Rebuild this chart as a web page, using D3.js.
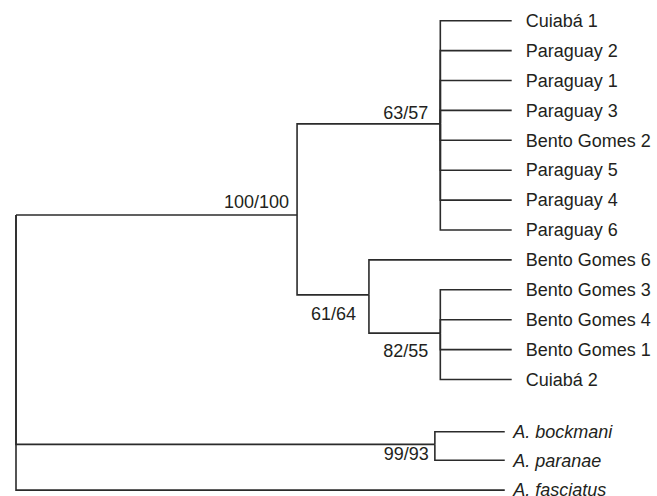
<!DOCTYPE html>
<html>
<head>
<meta charset="utf-8">
<script src="https://cdn.jsdelivr.net/npm/d3@7"></script>
<style>
  body { margin: 0; background: #fff; }
  svg text { font-family: "Liberation Sans", Arial, sans-serif; font-size: 18px; fill: #231f20; }
  .link { fill: none; stroke: #2b2b2b; stroke-width: 1.6px; }
</style>
</head>
<body>
<svg width="657" height="496"></svg>
<script>
// arbol: nodos internos (profundidad en unidades 0-100, fila) y hojas
var nodeIds      = ["root", "ingroup", "cladeA", "cladeB", "cladeC", "outPair"];
var nodeParents  = [null,   "root",    "ingroup", "ingroup", "cladeB", "root"];
var nodeDepths   = [0,      56.7,      85.6,     71.2,      85.6,     84.5];
var nodeRows     = [6.5,    6.5,       3.45,     9.17,      10.45,    14.17];
var nodeSupport  = ["",     "100/100", "63/57",  "61/64",   "82/55",  "99/93"];

var leafNames = ["Cuiabá 1", "Paraguay 2", "Paraguay 1", "Paraguay 3", "Bento Gomes 2",
                 "Paraguay 5", "Paraguay 4", "Paraguay 6", "Bento Gomes 6", "Bento Gomes 3",
                 "Bento Gomes 4", "Bento Gomes 1", "Cuiabá 2",
                 "A. bockmani", "A. paranae", "A. fasciatus"];
var leafParents = ["cladeA", "cladeA", "cladeA", "cladeA", "cladeA", "cladeA", "cladeA", "cladeA",
                   "cladeB", "cladeC", "cladeC", "cladeC", "cladeC",
                   "outPair", "outPair", "root"];
var leafDepths = [100, 100, 100, 100, 100, 100, 100, 100, 100, 100, 100, 100, 100, 98.6, 98.6, 98.6];
var leafRows   = [0, 1, 2, 3, 4, 5, 6, 7, 8, 9, 10, 11, 12, 13.75, 14.7, 15.7];
var outgroups  = ["A. bockmani", "A. paranae", "A. fasciatus"];

var rows = [];
nodeIds.forEach(function(id, i) {
  rows.push({ id: id, parent: nodeParents[i], depth: nodeDepths[i], row: nodeRows[i], support: nodeSupport[i], leaf: false });
});
leafNames.forEach(function(name, i) {
  rows.push({ id: name, parent: leafParents[i], depth: leafDepths[i], row: leafRows[i], support: "", leaf: true });
});

var root = d3.stratify()
  .id(function(d) { return d.id; })
  .parentId(function(d) { return d.parent; })(rows);

var svg = d3.select("svg");

var x = d3.scaleLinear().domain([0, 100]).range([16, 511.7]);
var y = d3.scaleLinear().domain([0, 15.7]).range([20.7, 490.1]);

// ramas en codo
svg.append("g").selectAll("path")
  .data(root.links())
  .enter().append("path")
    .attr("class", "link")
    .attr("d", function(l) {
      return "M" + x(l.source.data.depth) + "," + y(l.source.data.row) +
             "V" + y(l.target.data.row) + "H" + x(l.target.data.depth);
    });

// nombres de las hojas
svg.append("g").selectAll("text")
  .data(root.leaves())
  .enter().append("text")
    .attr("x", function(d) { return x(d.data.depth) + (outgroups.indexOf(d.id) >= 0 ? 8.5 : 14); })
    .attr("y", function(d) { return y(d.data.row); })
    .attr("dy", "0.35em")
    .style("font-style", function(d) { return outgroups.indexOf(d.id) >= 0 ? "italic" : "normal"; })
    .text(function(d) { return d.id; });

// soporte (bootstrap) junto a cada nodo
var labelOffset = {
  ingroup: [-8, -7],
  cladeA:  [-12, -5],
  cladeB:  [-13, 25],
  cladeC:  [-12, 24],
  outPair: [-6, 16]
};

svg.append("g").selectAll("text")
  .data(root.descendants().filter(function(d) { return d.data.support; }))
  .enter().append("text")
    .attr("text-anchor", "end")
    .attr("x", function(d) { return x(d.data.depth) + labelOffset[d.id][0]; })
    .attr("y", function(d) { return y(d.data.row) + labelOffset[d.id][1]; })
    .text(function(d) { return d.data.support; });
</script>
</body>
</html>
